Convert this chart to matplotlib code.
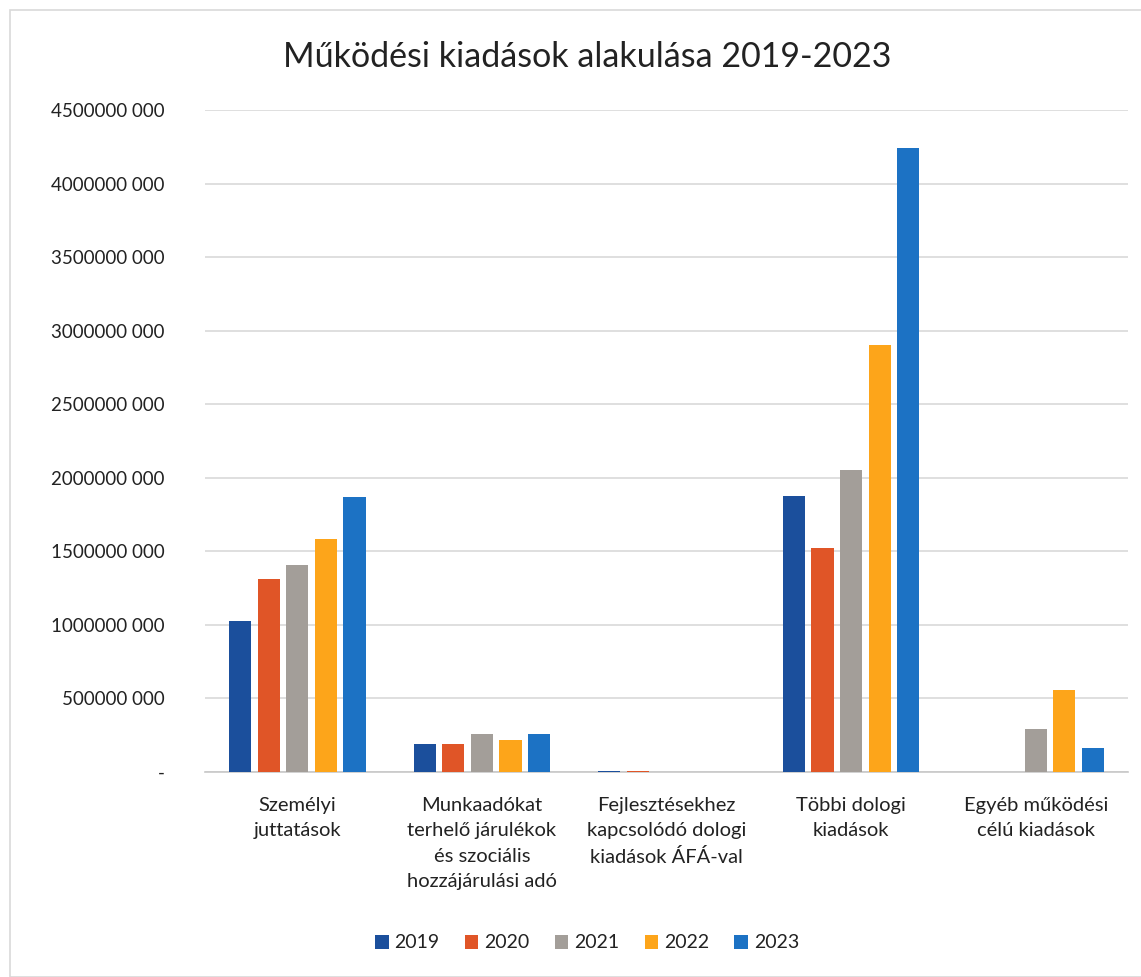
import matplotlib
matplotlib.use("Agg")
import matplotlib.pyplot as plt
import numpy as np
from matplotlib.patches import Rectangle

plt.rcParams['font.family'] = ['Lato', 'DejaVu Sans']

categories = ["Személyi\njuttatások",
              "Munkaadókat\nterhelő járulékok\nés szociális\nhozzájárulási adó",
              "Fejlesztésekhez\nkapcsolódó dologi\nkiadások ÁFÁ-val",
              "Többi dologi\nkiadások",
              "Egyéb működési\ncélú kiadások"]
years = ["2019", "2020", "2021", "2022", "2023"]
v2019 = [1025e6, 190e6, 10e6, 1875e6, 0]
v2020 = [1310e6, 190e6, 8e6, 1520e6, 0]
v2021 = [1410e6, 260e6, 2e6, 2050e6, 290e6]
v2022 = [1585e6, 217e6, 1e6, 2900e6, 560e6]
v2023 = [1870e6, 260e6, 1e6, 4240e6, 160e6]
series = [v2019, v2020, v2021, v2022, v2023]
colors = ["#1b4f9c", "#e05527", "#a39e99", "#fda51a", "#1c72c4"]
yticks = [0, 500e6, 1000e6, 1500e6, 2000e6, 2500e6, 3000e6, 3500e6, 4000e6, 4500e6]
ytick_labels = ["-", "500000 000", "1000000 000", "1500000 000", "2000000 000",
                "2500000 000", "3000000 000", "3500000 000", "4000000 000", "4500000 000"]

W, H = 1141, 977
fig = plt.figure(figsize=(W / 100, H / 100), dpi=100)
fig.patches.append(Rectangle((10 / W, 0), 1, 1 - 10 / H, transform=fig.transFigure,
                             fill=False, edgecolor="#d9d9d9", linewidth=1.2))
ax = fig.add_axes([205 / W, 1 - 772 / H, (1128 - 205) / W, (772 - 110) / H])

x = np.arange(len(categories))
step = 0.155
width = 0.12
for i, (vals, c, yr) in enumerate(zip(series, colors, years)):
    ax.bar(x + (i - 2) * step, vals, width=width, color=c, label=yr, zorder=3)

ax.set_xlim(-0.5, len(categories) - 0.5)
ax.set_ylim(0, 4500e6)
ax.set_yticks(yticks)
ax.set_yticklabels(ytick_labels, fontsize=13.5, color="#222222")
ax.set_xticks(x)
ax.set_xticklabels(categories, fontsize=14.5, color="#222222", linespacing=1.6, va="top")
ax.tick_params(axis="both", length=0)
ax.tick_params(axis="y", pad=29)
ax.tick_params(axis="x", pad=18)
ax.grid(axis="y", color="#d9d9d9", linewidth=1.2, zorder=0)
for s in ["top", "right", "left"]:
    ax.spines[s].set_visible(False)
ax.spines["bottom"].set_color("#c8c8c8")
ax.spines["bottom"].set_linewidth(1.2)

fig.text(587 / W, 1 - 57 / H, "Működési kiadások alakulása 2019-2023",
         ha="center", va="center", fontsize=24.5, color="#222222")

leg = fig.legend(loc="center", bbox_to_anchor=(587 / W, 1 - 943 / H), ncol=5,
                 frameon=False, fontsize=14, handlelength=0.7, handleheight=0.7,
                 handletextpad=0.3, columnspacing=1.3)
for t in leg.get_texts():
    t.set_color("#222222")

fig.savefig("out.png", dpi=100)
